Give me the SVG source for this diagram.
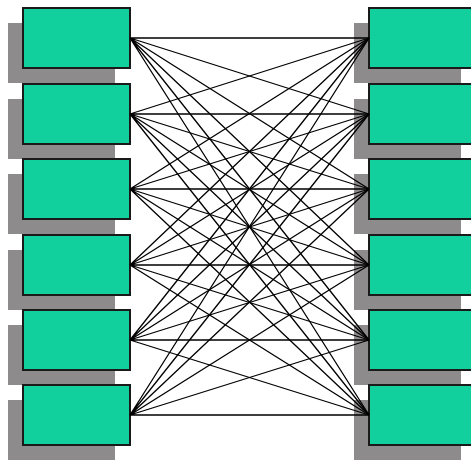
<svg xmlns="http://www.w3.org/2000/svg" width="471" height="460" viewBox="0 0 471 460">
<style>
.sh{fill:#8e8b8c}
.bx{fill:#12CF9E;stroke:#1a1a1a;stroke-width:2}
.ln{stroke:#000;stroke-width:1.3;fill:none}
</style>
<defs>
<g id="node"><rect class="sh" x="-15" y="15" width="107" height="60"/><rect class="bx" x="0" y="0" width="107" height="60"/></g>
</defs>
<rect width="471" height="460" fill="#fff"/>
<g id="L1"><use href="#node" x="23" y="8"/></g>
<g id="L2"><use href="#node" x="23" y="84"/></g>
<g id="L3"><use href="#node" x="23" y="159"/></g>
<g id="L4"><use href="#node" x="23" y="235"/></g>
<g id="L5"><use href="#node" x="23" y="310"/></g>
<g id="L6"><use href="#node" x="23" y="385"/></g>
<g id="R1"><use href="#node" x="369" y="8"/></g>
<g id="R2"><use href="#node" x="369" y="84"/></g>
<g id="R3"><use href="#node" x="369" y="159"/></g>
<g id="R4"><use href="#node" x="369" y="235"/></g>
<g id="R5"><use href="#node" x="369" y="310"/></g>
<g id="R6"><use href="#node" x="369" y="385"/></g>
<g id="connectors" class="ln">
<path d="M130 38L369 38M130 38L369 114M130 38L369 189M130 38L369 265M130 38L369 340M130 38L369 415"/>
<path d="M130 114L369 38M130 114L369 114M130 114L369 189M130 114L369 265M130 114L369 340M130 114L369 415"/>
<path d="M130 189L369 38M130 189L369 114M130 189L369 189M130 189L369 265M130 189L369 340M130 189L369 415"/>
<path d="M130 265L369 38M130 265L369 114M130 265L369 189M130 265L369 265M130 265L369 340M130 265L369 415"/>
<path d="M130 340L369 38M130 340L369 114M130 340L369 189M130 340L369 265M130 340L369 340M130 340L369 415"/>
<path d="M130 415L369 38M130 415L369 114M130 415L369 189M130 415L369 265M130 415L369 340M130 415L369 415"/>
</g>
</svg>
